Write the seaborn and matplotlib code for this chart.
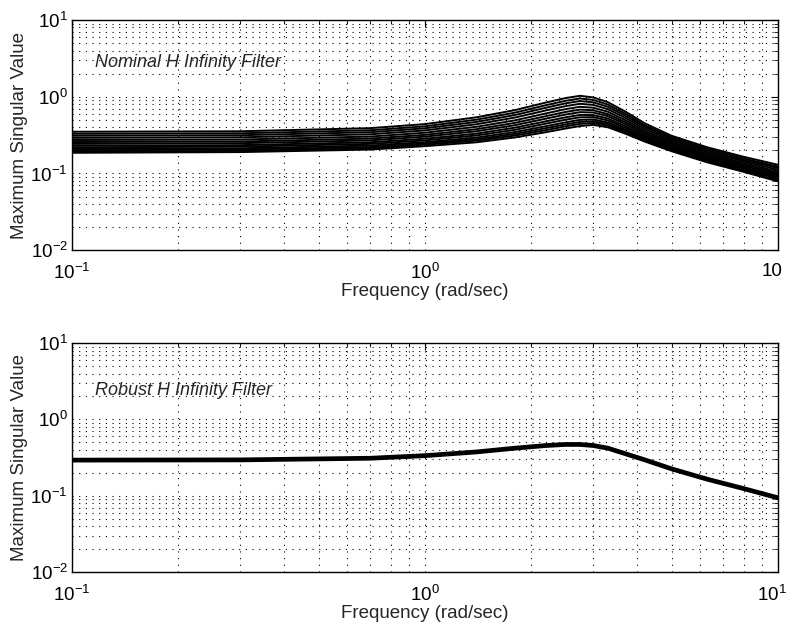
import numpy as np
import pandas as pd
import matplotlib
matplotlib.use("Agg")
import matplotlib.pyplot as plt
import matplotlib.transforms as mtransforms
import seaborn as sns

# ---- data ----
freq = [0.1, 0.3, 0.7, 1.0, 1.4, 1.8, 2.2, 2.5, 2.75, 3.0, 3.3, 3.7, 4.2, 5.0, 6.3, 8.0, 10.0]

nominal_01 = [0.350, 0.355, 0.390, 0.440, 0.540, 0.670, 0.840, 0.960, 1.030, 0.980, 0.850, 0.640, 0.450, 0.310, 0.220, 0.165, 0.130]
nominal_02 = [0.329, 0.334, 0.366, 0.412, 0.503, 0.621, 0.776, 0.885, 0.950, 0.909, 0.792, 0.600, 0.425, 0.295, 0.210, 0.157, 0.123]
nominal_03 = [0.310, 0.315, 0.345, 0.388, 0.470, 0.578, 0.719, 0.820, 0.880, 0.846, 0.740, 0.564, 0.404, 0.282, 0.200, 0.150, 0.118]
nominal_04 = [0.291, 0.296, 0.324, 0.364, 0.438, 0.536, 0.663, 0.754, 0.810, 0.783, 0.689, 0.529, 0.382, 0.269, 0.191, 0.144, 0.112]
nominal_05 = [0.273, 0.277, 0.303, 0.340, 0.406, 0.493, 0.606, 0.689, 0.740, 0.720, 0.638, 0.494, 0.360, 0.256, 0.182, 0.137, 0.106]
nominal_06 = [0.257, 0.261, 0.285, 0.319, 0.378, 0.457, 0.558, 0.633, 0.680, 0.667, 0.594, 0.464, 0.342, 0.245, 0.175, 0.131, 0.101]
nominal_07 = [0.243, 0.248, 0.270, 0.302, 0.355, 0.426, 0.518, 0.586, 0.630, 0.623, 0.558, 0.439, 0.327, 0.235, 0.168, 0.126, 0.097]
nominal_08 = [0.230, 0.234, 0.255, 0.284, 0.331, 0.396, 0.478, 0.539, 0.580, 0.577, 0.521, 0.413, 0.311, 0.226, 0.161, 0.121, 0.093]
nominal_09 = [0.219, 0.224, 0.243, 0.270, 0.313, 0.371, 0.446, 0.502, 0.540, 0.542, 0.491, 0.393, 0.299, 0.218, 0.156, 0.117, 0.089]
nominal_10 = [0.209, 0.213, 0.231, 0.256, 0.294, 0.347, 0.413, 0.464, 0.500, 0.506, 0.462, 0.373, 0.286, 0.211, 0.151, 0.113, 0.086]
nominal_11 = [0.201, 0.205, 0.221, 0.246, 0.280, 0.328, 0.389, 0.436, 0.470, 0.479, 0.440, 0.358, 0.277, 0.205, 0.147, 0.110, 0.084]
nominal_12 = [0.193, 0.197, 0.213, 0.237, 0.268, 0.312, 0.367, 0.411, 0.443, 0.455, 0.420, 0.344, 0.269, 0.200, 0.144, 0.108, 0.081]
nominal_13 = [0.186, 0.190, 0.205, 0.227, 0.255, 0.295, 0.345, 0.385, 0.415, 0.430, 0.400, 0.330, 0.260, 0.195, 0.140, 0.105, 0.079]

robust = [0.293, 0.295, 0.310, 0.335, 0.375, 0.420, 0.455, 0.470, 0.470, 0.455, 0.420, 0.355, 0.295, 0.225, 0.165, 0.124, 0.094]

nominal_curves = [nominal_01, nominal_02, nominal_03, nominal_04, nominal_05, nominal_06,
                  nominal_07, nominal_08, nominal_09, nominal_10, nominal_11, nominal_12, nominal_13]

top_xticklabels = ["$10^{-1}$", "$10^{0}$", "10"]
bot_xticklabels = ["$10^{-1}$", "$10^{0}$", "$10^{1}$"]
yticklabels = ["$10^{-2}$", "$10^{-1}$", "$10^{0}$", "$10^{1}$"]
title_top = "Nominal H Infinity Filter"
title_bot = "Robust H Infinity Filter"
xlabel = "Frequency (rad/sec)"
ylabel = "Maximum Singular Value"

# ---- build tables ----
rows = []
for i, c in enumerate(nominal_curves):
    for f, v in zip(freq, c):
        rows.append({"freq": f, "value": v, "curve": i})
df_nom = pd.DataFrame(rows)
df_rob = pd.DataFrame({"freq": freq, "value": robust, "curve": 0})

sns.set_theme(style="white")
plt.rcParams["font.family"] = ["Liberation Sans", "DejaVu Sans"]
plt.rcParams["mathtext.fontset"] = "custom"
plt.rcParams["mathtext.rm"] = "Liberation Sans"
plt.rcParams["mathtext.it"] = "Liberation Sans:italic"

fig = plt.figure(figsize=(7.86, 6.27), dpi=100)
ax1 = fig.add_axes([0.0916, 0.601, 0.898, 0.367])
ax2 = fig.add_axes([0.0916, 0.0877, 0.898, 0.365])

sns.lineplot(data=df_nom, x="freq", y="value", units="curve", estimator=None,
             color="black", linewidth=1.4, ax=ax1, legend=False)
sns.lineplot(data=df_rob, x="freq", y="value", units="curve", estimator=None,
             color="black", linewidth=3.4, ax=ax2, legend=False)

for ax, xtl, title, ty in [(ax1, top_xticklabels, title_top, 0.817),
                           (ax2, bot_xticklabels, title_bot, 0.795)]:
    ax.set_xscale("log")
    ax.set_yscale("log")
    ax.set_xlim(0.1, 10)
    ax.set_ylim(1e-2, 1e1)
    ax.set_xticks([0.1, 1, 10])
    ax.set_xticklabels(xtl)
    ax.set_yticks([1e-2, 1e-1, 1e0, 1e1])
    ax.set_yticklabels(yticklabels)
    ax.grid(which="both", linestyle=(0, (1, 5)), color="black", linewidth=0.8)
    ax.tick_params(which="both", direction="in", top=True, right=True,
                   colors="black", labelsize=13.5)
    ax.tick_params(which="major", length=5, width=0.8)
    ax.tick_params(axis="x", which="major", pad=9)
    ax.tick_params(axis="y", which="major", pad=3)
    ax.tick_params(which="minor", length=3, width=0.6)
    for s in ax.spines.values():
        s.set_color("black")
        s.set_linewidth(1.0)
    ax.set_xlabel(xlabel, fontsize=13.5, labelpad=0)
    ax.set_ylabel(ylabel, fontsize=13.5, labelpad=2)
    ax.text(0.033, ty, title, transform=ax.transAxes, fontsize=13,
            style="italic", va="center", ha="left")
    # nudge the last x tick label slightly left so it stays on the canvas
    last = ax.get_xticklabels()[-1]
    last.set_transform(last.get_transform() +
                       mtransforms.ScaledTranslation(-6 / 100, 0, fig.dpi_scale_trans))

fig.savefig("out.png", dpi=100)
